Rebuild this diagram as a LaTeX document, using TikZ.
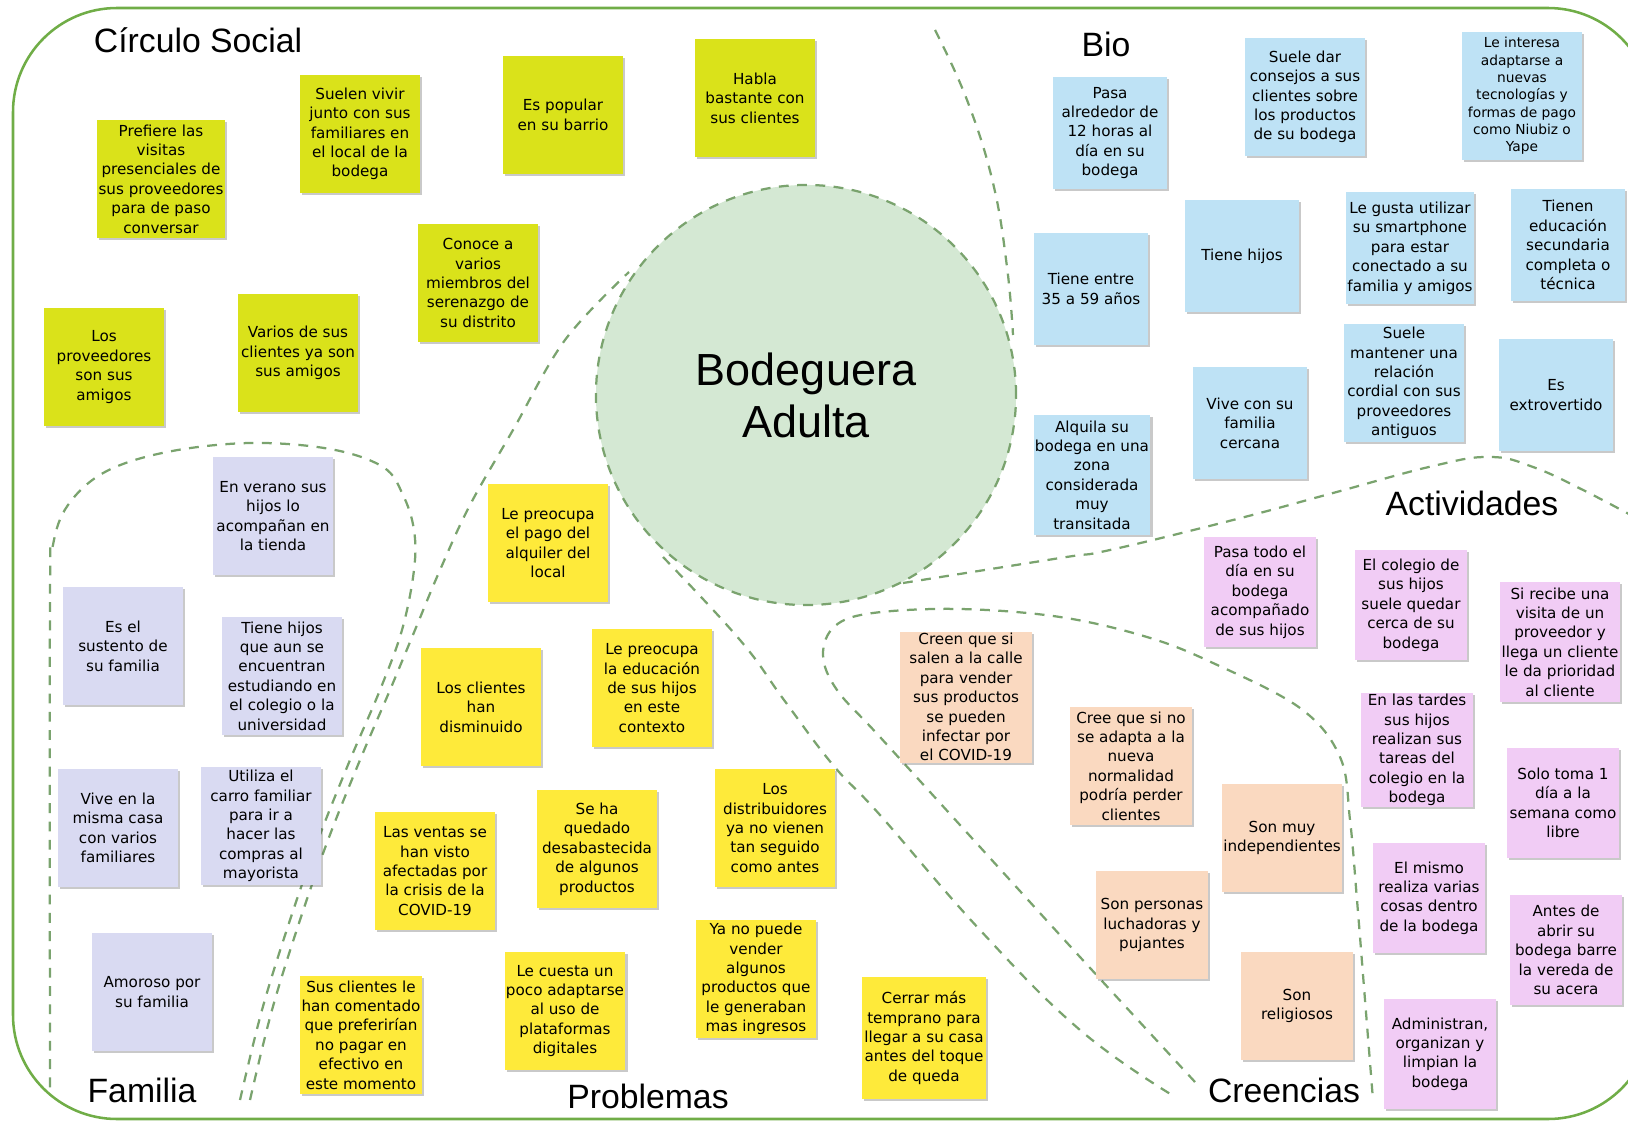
\documentclass[tikz,border=0pt]{standalone}
\usepackage{fontspec}
\setmainfont{Liberation Sans}
\newfontfamily\notefont{DejaVu Sans}
\usetikzlibrary{shadows, positioning}

\definecolor{framegreen}{RGB}{112,173,71}
\definecolor{dashgreen}{RGB}{122,163,110}
\definecolor{corefill}{RGB}{212,232,211}
\definecolor{socialcol}{RGB}{218,226,26}
\definecolor{biocol}{RGB}{190,226,245}
\definecolor{actcol}{RGB}{241,204,245}
\definecolor{beliefcol}{RGB}{250,217,192}
\definecolor{familycol}{RGB}{217,218,242}
\definecolor{probcol}{RGB}{254,234,58}

\begin{document}
\begin{tikzpicture}[x=0.025cm, y=-0.025cm,
    note/.style={rectangle, inner sep=1pt, align=center,
        minimum width=2.95cm, minimum height=2.9cm,
        font=\notefont\fontsize{10.8}{13.8}\selectfont,
        drop shadow={shadow xshift=1.5pt, shadow yshift=-1.5pt, opacity=0.3, fill=black!70}},
    social/.style={note, fill=socialcol, minimum width=3cm, minimum height=2.95cm},
    bionote/.style={note, fill=biocol, minimum width=2.85cm, minimum height=2.8cm},
    actnote/.style={note, fill=actcol, minimum width=2.8cm, minimum height=2.75cm},
    beliefnote/.style={note, fill=beliefcol, minimum width=2.8cm, minimum height=2.7cm},
    familynote/.style={note, fill=familycol, minimum width=3cm, minimum height=2.95cm},
    probnote/.style={note, fill=probcol, minimum width=3cm, minimum height=2.95cm},
    divider/.style={draw=dashgreen, line width=1.6pt, dash pattern=on 7pt off 6pt},
    area/.style={font=\fontsize{24}{28}\selectfont}]

    \useasboundingbox (0,0) rectangle (1628,1122);
    \clip (0,0) rectangle (1628,1122);

    % 1. Outer frame
    \draw[framegreen, line width=1.8pt, rounded corners=2.6cm] (13,8) rectangle (1652,1119);

    % 2. Dashed dividers between the areas
    % Circulo Social / Bio
    \draw[divider] plot[smooth, tension=0.7] coordinates {(935,30) (967,100) (993,183) (1007,267) (1013,335)};
    % Bio / Actividades
    \draw[divider] plot[smooth, tension=0.7] coordinates {(903,583) (1060,558) (1110,550) (1233,520) (1333,493) (1433,466) (1490,457) (1533,467) (1583,490) (1640,520)};
    % Problemas / Creencias
    \draw[divider] plot[smooth, tension=0.7] coordinates {(663,557) (740,640) (784,700) (833,765) (880,815) (980,930) (1080,1030) (1172,1095)};
    % Creencias area
    \draw[divider] plot[smooth, tension=0.6] coordinates {(1195,1082) (1080,957) (980,847) (880,737) (837,690) (823,655) (835,626) (873,613) (960,609) (1060,617) (1147,637) (1213,663) (1300,708) (1340,757) (1350,820) (1357,900) (1365,1000) (1373,1100)};
    % Familia area
    \draw[divider] plot[smooth, tension=0.6] coordinates {(240,1100) (262,1010) (290,920) (318,840) (350,760) (380,690) (402,630) (414,570) (414,530) (403,495) (383,467) (330,449) (250,443) (167,452) (105,472) (68,505) (53,545) (50,600) (50,1090)};
    % Problemas / Circulo Social
    \draw[divider] plot[smooth, tension=0.6] coordinates {(250,1100) (272,1010) (300,920) (328,840) (360,760) (390,690) (415,630) (440,570) (470,505) (513,430) (565,340) (629,272)};

    % 3. Central persona
    \node[circle, fill=corefill, draw=dashgreen, line width=1.6pt, dash pattern=on 7pt off 6pt,
          minimum size=10.5cm, align=center, font=\fontsize{32}{37}\selectfont]
          (persona) at (806,395) {Bodeguera\\Adulta};

    % 4. Circulo Social notes
    \node[social] (soc1) at (161,179) {Prefiere las\\visitas\\presenciales de\\sus proveedores\\para de paso\\conversar};
    \node[social] (soc2) at (360,134) {Suelen vivir\\junto con sus\\familiares en\\el local de la\\bodega};
    \node[social] (soc3) at (563,115) {Es popular\\en su barrio};
    \node[social] (soc4) at (755,98) {Habla\\bastante con\\sus clientes};
    \node[social] (soc5) at (478,283) {Conoce a\\varios\\miembros del\\serenazgo de\\su distrito};
    \node[social] (soc6) at (104,367) {Los\\proveedores\\son sus\\amigos};
    \node[social] (soc7) at (298,353) {Varios de sus\\clientes ya son\\sus amigos};

    % 5. Bio notes
    \node[bionote] (bio1) at (1110,133) {Pasa\\alrededor de\\12 horas al\\día en su\\bodega};
    \node[bionote, minimum width=3cm, minimum height=2.95cm] (bio2) at (1305,97) {Suele dar\\consejos a sus\\clientes sobre\\los productos\\de su bodega};
    \node[bionote, minimum width=3cm, minimum height=3.2cm, font=\notefont\fontsize{9.8}{12.3}\selectfont] (bio3) at (1522,96) {Le interesa\\adaptarse a\\nuevas\\tecnologías y\\formas de pago\\como Niubiz o\\Yape};
    \node[bionote] (bio4) at (1091,289) {Tiene entre\\35 a 59 años};
    \node[bionote] (bio5) at (1242,256) {Tiene hijos};
    \node[bionote] (bio6) at (1410,248) {Le gusta utilizar\\su smartphone\\para estar\\conectado a su\\familia y amigos};
    \node[bionote] (bio7) at (1568,245) {Tienen\\educación\\secundaria\\completa o\\técnica};
    \node[bionote, minimum height=3cm] (bio8) at (1092,475) {Alquila su\\bodega en una\\zona\\considerada\\muy\\transitada};
    \node[bionote] (bio9) at (1250,423) {Vive con su\\familia\\cercana};
    \node[bionote, minimum width=3cm, minimum height=2.95cm] (bio10) at (1404,383) {Suele\\mantener una\\relación\\cordial con sus\\proveedores\\antiguos};
    \node[bionote] (bio11) at (1556,395) {Es\\extrovertido};

    % 6. Actividades notes
    \node[actnote] (act1) at (1260,592) {Pasa todo el\\día en su\\bodega\\acompañado\\de sus hijos};
    \node[actnote] (act2) at (1411,605) {El colegio de\\sus hijos\\suele quedar\\cerca de su\\bodega};
    \node[actnote, minimum width=3cm, minimum height=3cm] (act3) at (1560,642) {Si recibe una\\visita de un\\proveedor y\\llega un cliente\\le da prioridad\\al cliente};
    \node[actnote] (act4) at (1417,750) {En las tardes\\sus hijos\\realizan sus\\tareas del\\colegio en la\\bodega};
    \node[actnote] (act5) at (1563,803) {Solo toma 1\\día a la\\semana como\\libre};
    \node[actnote] (act6) at (1429,898) {El mismo\\realiza varias\\cosas dentro\\de la bodega};
    \node[actnote] (act7) at (1566,950) {Antes de\\abrir su\\bodega barre\\la vereda de\\su acera};
    \node[actnote] (act8) at (1440,1054) {Administran,\\organizan y\\limpian la\\bodega};

    % 7. Creencias notes
    \node[beliefnote, minimum width=3.3cm, minimum height=3.2cm] (bel1) at (966,697) {Creen que si\\salen a la calle\\para vender\\sus productos\\se pueden\\infectar por\\el COVID-19};
    \node[beliefnote, minimum width=3.05cm, minimum height=2.95cm] (bel2) at (1131,766) {Cree que si no\\se adapta a la\\nueva\\normalidad\\podría perder\\clientes};
    \node[beliefnote] (bel3) at (1282,838) {Son muy\\independientes};
    \node[beliefnote] (bel4) at (1152,925) {Son personas\\luchadoras y\\pujantes};
    \node[beliefnote] (bel5) at (1297,1006) {Son\\religiosos};

    % 8. Familia notes
    \node[familynote] (fam1) at (273,516) {En verano sus\\hijos lo\\acompañan en\\la tienda};
    \node[familynote] (fam2) at (123,646) {Es el\\sustento de\\su familia};
    \node[familynote] (fam3) at (282,676) {Tiene hijos\\que aun se\\encuentran\\estudiando en\\el colegio o la\\universidad};
    \node[familynote] (fam4) at (118,828) {Vive en la\\misma casa\\con varios\\familiares};
    \node[familynote] (fam5) at (261,826) {Utiliza el\\carro familiar\\para ir a\\hacer las\\compras al\\mayorista};
    \node[familynote] (fam6) at (152,992) {Amoroso por\\su familia};

    % 9. Problemas notes
    \node[probnote] (prob1) at (548,543) {Le preocupa\\el pago del\\alquiler del\\local};
    \node[probnote] (prob2) at (481,707) {Los clientes\\han\\disminuido};
    \node[probnote] (prob3) at (652,688) {Le preocupa\\la educación\\de sus hijos\\en este\\contexto};
    \node[probnote] (prob4) at (435,871) {Las ventas se\\han visto\\afectadas por\\la crisis de la\\COVID-19};
    \node[probnote] (prob5) at (597,849) {Se ha\\quedado\\desabastecida\\de algunos\\productos};
    \node[probnote] (prob6) at (775,828) {Los\\distribuidores\\ya no vienen\\tan seguido\\como antes};
    \node[probnote] (prob7) at (361,1035) {Sus clientes le\\han comentado\\que preferirían\\no pagar en\\efectivo en\\este momento};
    \node[probnote] (prob8) at (565,1011) {Le cuesta un\\poco adaptarse\\al uso de\\plataformas\\digitales};
    \node[probnote] (prob9) at (756,979) {Ya no puede\\vender\\algunos\\productos que\\le generaban\\mas ingresos};
    \node[probnote, minimum width=3.1cm, minimum height=3.05cm] (prob10) at (924,1038) {Cerrar más\\temprano para\\llegar a su casa\\antes del toque\\de queda};

    % 10. Area titles
    \node[area] (lblsocial) at (198,40) {Círculo Social};
    \node[area] (lblbio) at (1106,44) {Bio};
    \node[area] (lblact) at (1472,503) {Actividades};
    \node[area] (lblfam) at (142,1090) {Familia};
    \node[area] (lblprob) at (648,1096) {Problemas};
    \node[area] (lblbel) at (1284,1090) {Creencias};

\end{tikzpicture}
\end{document}
